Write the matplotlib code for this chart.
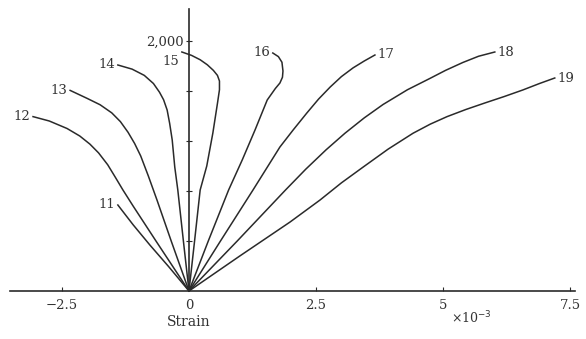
import matplotlib
matplotlib.use("Agg")
import matplotlib.pyplot as plt

# strain (x 1e-3) and load values
c11_x = [0, -0.40, -0.77, -1.10, -1.40]
c11_y = [0, 195, 368, 530, 688]

c12_x = [0, -0.65, -1.10, -1.30, -1.45, -1.60, -1.78, -1.95, -2.15, -2.40, -2.75, -3.07]
c12_y = [0, 400, 680, 808, 910, 1010, 1105, 1175, 1240, 1300, 1360, 1395]

c13_x = [0, -0.35, -0.63, -0.80, -0.95, -1.07, -1.20, -1.35, -1.52, -1.75, -2.00, -2.34]
c13_y = [0, 400, 728, 920, 1080, 1180, 1270, 1355, 1425, 1490, 1540, 1605]

c14_x = [0, -0.11, -0.22, -0.28, -0.33, -0.38, -0.43, -0.50, -0.58, -0.70, -0.88, -1.12, -1.40]
c14_y = [0, 400, 808, 992, 1208, 1340, 1448, 1530, 1590, 1660, 1725, 1775, 1808]

c15_x = [0, 0.11, 0.22, 0.35, 0.47, 0.56, 0.60, 0.60, 0.56, 0.48, 0.36, 0.22, 0.05, -0.14]
c15_y = [0, 400, 808, 1000, 1264, 1500, 1610, 1680, 1725, 1765, 1810, 1850, 1885, 1912]

c16_x = [0, 0.38, 0.78, 1.05, 1.30, 1.54, 1.70, 1.79, 1.84, 1.85, 1.83, 1.76, 1.65]
c16_y = [0, 400, 808, 1050, 1288, 1528, 1620, 1664, 1710, 1760, 1830, 1875, 1904]

c17_x = [0, 0.62, 1.26, 1.79, 2.05, 2.32, 2.55, 2.78, 3.00, 3.23, 3.45, 3.66]
c17_y = [0, 400, 808, 1152, 1288, 1424, 1535, 1632, 1715, 1785, 1840, 1888]

c18_x = [0, 0.95, 1.90, 2.30, 2.70, 3.07, 3.45, 3.82, 4.30, 4.74, 5.05, 5.39, 5.70, 6.02]
c18_y = [0, 400, 808, 975, 1130, 1262, 1385, 1492, 1610, 1700, 1765, 1828, 1878, 1912]

c19_x = [0, 1.00, 1.99, 2.58, 3.00, 3.43, 3.92, 4.41, 4.75, 5.08, 5.45, 5.83, 6.20, 6.57, 6.90, 7.20]
c19_y = [0, 280, 552, 728, 865, 992, 1135, 1262, 1335, 1395, 1452, 1505, 1555, 1608, 1660, 1704]

curve_names = ["11", "12", "13", "14", "15", "16", "17", "18", "19"]
curves_x = [c11_x, c12_x, c13_x, c14_x, c15_x, c16_x, c17_x, c18_x, c19_x]
curves_y = [c11_y, c12_y, c13_y, c14_y, c15_y, c16_y, c17_y, c18_y, c19_y]

xtick_vals = [-2.5, 0, 2.5, 5, 7.5]
xtick_labels = ["\u22122.5", "0", "2.5", "5", "7.5"]
ytick_vals = [400, 800, 1200, 1600, 2000]
ytick_labels = ["", "", "", "", "2,000"]

fam = ["DejaVu Serif"]
fig = plt.figure(figsize=(5.86, 3.39), dpi=100)
ax = fig.add_axes([0, 0, 1, 1])
ax.set_xlim(-3.72, 7.815)
ax.set_ylim(-384, 2328)

col = "#2a2a2a"
label_offsets = {"15": (-2, -7)}
for name, xs, ys in zip(curve_names, curves_x, curves_y):
    ax.plot(xs, ys, color=col, lw=1.1, solid_joinstyle="round")
    left = name in ("11", "12", "13", "14", "15", "16")
    off = label_offsets.get(name, (-2 if left else 2, 0))
    ax.annotate(name, (xs[-1], ys[-1]), xytext=off,
                textcoords="offset points", ha="right" if left else "left",
                va="center", fontsize=9.5, family=fam, color="#333333")

for s in ("top", "right"):
    ax.spines[s].set_visible(False)
ax.spines["left"].set_position(("data", 0))
ax.spines["bottom"].set_position(("data", 0))
ax.spines["left"].set_bounds(0, 2260)
ax.spines["bottom"].set_bounds(-3.52, 7.6)
for s in ("left", "bottom"):
    ax.spines[s].set_color(col)
    ax.spines[s].set_linewidth(1.2)

ax.set_xticks(xtick_vals)
ax.set_xticklabels(xtick_labels, family=fam, fontsize=9.5, color="#333333")
ax.set_yticks(ytick_vals)
ax.set_yticklabels(ytick_labels, family=fam, fontsize=9.5, color="#333333")
ax.tick_params(axis="x", direction="in", length=3, pad=6, color=col)
ax.tick_params(axis="y", direction="inout", length=4, pad=2, color=col)

ax.text(0, -245, "Strain", ha="center", va="center", fontsize=10, family=fam, color="#333333")
ax.text(5.55, -215, "\u00d710$^{-3}$", ha="center", va="center", fontsize=9, family=fam, color="#333333")

fig.savefig("out.png", dpi=100)
